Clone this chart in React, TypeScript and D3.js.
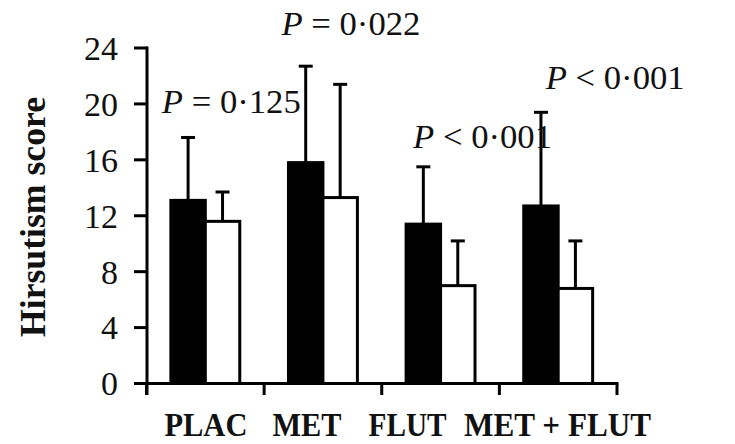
import React from "react";
import * as d3 from "d3";

const categories = ["PLAC", "MET", "FLUT", "MET + FLUT"];
const seriesKeys = ["baseline", "treated"];
const baselineMeans = [13.1, 15.8, 11.4, 12.7];
const baselineSD = [4.5, 6.9, 4.1, 6.7];
const treatedMeans = [11.6, 13.3, 7.0, 6.8];
const treatedSD = [2.1, 8.1, 3.2, 3.4];
const pOperators = ["=", "=", "<", "<"];
const pValues = ["0·125", "0·022", "0·001", "0·001"];
const yTicks = [0, 4, 8, 12, 16, 20, 24];
const yTitle = "Hirsutism score";

// layout-only helpers (not data)
const pLabelDx = [26, 28, 42, 57];
const pLabelY = [19.35, 24.93, 16.85, 21.07];
const catLabelDx = [0.6, -16, -33, -0.6];
const catLabelLen = [83, 69, 78, 187];

const W = 735;
const H = 444;
const FONT = "'Liberation Serif', 'Times New Roman', serif";

export default function App() {
  const x = d3.scaleBand<string>().domain(categories).range([146.5, 617]).paddingInner(0).paddingOuter(0);
  const xi = d3.scaleBand<string>().domain(seriesKeys).range([0, x.bandwidth()]).paddingInner(0).paddingOuter(0.707);
  const y = d3.scaleLinear().domain([0, 24]).range([383.5, 48]);

  const rows = categories.map((c, i) => ({
    c,
    bars: [
      { key: seriesKeys[0], mean: baselineMeans[i], sd: baselineSD[i], fill: "#000" },
      { key: seriesKeys[1], mean: treatedMeans[i], sd: treatedSD[i], fill: "#fff" },
    ],
  }));

  const axisX = 147;
  const sw = 3;
  const boundaries = [...categories.map((c) => x(c)!), x.range()[1]];

  return (
    <svg width={W} height={H} style={{ position: "fixed", left: 0, top: 0, background: "#fff" }} fontFamily={FONT}>
      <rect x={0} y={0} width={W} height={H} fill="#fff" />
      {/* bars */}
      {rows.map((r) =>
        r.bars.map((b) => {
          const bx = x(r.c)! + xi(b.key)!;
          const bw = xi.bandwidth();
          const cx = bx + bw / 2;
          return (
            <g key={r.c + b.key}>
              <rect x={bx} y={y(b.mean)} width={bw} height={y(0) - y(b.mean)} fill={b.fill} stroke="#000" strokeWidth={sw} />
              <line x1={cx} x2={cx} y1={y(b.mean)} y2={y(b.mean + b.sd)} stroke="#000" strokeWidth={sw} />
              <line x1={cx - 7} x2={cx + 7} y1={y(b.mean + b.sd)} y2={y(b.mean + b.sd)} stroke="#000" strokeWidth={sw} />
            </g>
          );
        })
      )}
      {/* y axis */}
      <line x1={axisX} x2={axisX} y1={y(24) - 1.5} y2={395} stroke="#000" strokeWidth={sw} />
      {yTicks.map((t) => (
        <g key={t}>
          <line x1={134} x2={axisX} y1={y(t)} y2={y(t)} stroke="#000" strokeWidth={sw} />
          <text x={118} y={y(t)} dy="0.35em" textAnchor="end" fontSize={34} fill="#111">
            {t}
          </text>
        </g>
      ))}
      {/* x axis */}
      <line x1={axisX} x2={x.range()[1] + 1.5} y1={y(0)} y2={y(0)} stroke="#000" strokeWidth={sw} />
      {boundaries.map((b, i) => (
        <line key={i} x1={b} x2={b} y1={y(0)} y2={395} stroke="#000" strokeWidth={sw} />
      ))}
      {categories.map((c, i) => (
        <text
          key={c}
          x={x(c)! + x.bandwidth() / 2 + catLabelDx[i]}
          y={436}
          textAnchor="middle"
          fontSize={34}
          fontWeight="bold"
          fill="#111"
          textLength={catLabelLen[i]}
          lengthAdjust="spacingAndGlyphs"
        >
          {c}
        </text>
      ))}
      {/* y title */}
      <text
        transform={`translate(45, 217) rotate(-90)`}
        textAnchor="middle"
        fontSize={36}
        fontWeight="bold"
        fill="#111"
        textLength={240}
        lengthAdjust="spacingAndGlyphs"
      >
        {yTitle}
      </text>
      {/* P annotations */}
      {categories.map((c, i) => (
        <text
          key={"p" + c}
          x={x(c)! + x.bandwidth() / 2 + pLabelDx[i]}
          y={y(pLabelY[i])}
          textAnchor="middle"
          fontSize={34}
          fill="#111"
          textLength={139}
          lengthAdjust="spacingAndGlyphs"
        >
          <tspan fontStyle="italic">P</tspan>
          {` ${pOperators[i]} ${pValues[i]}`}
        </text>
      ))}
    </svg>
  );
}
